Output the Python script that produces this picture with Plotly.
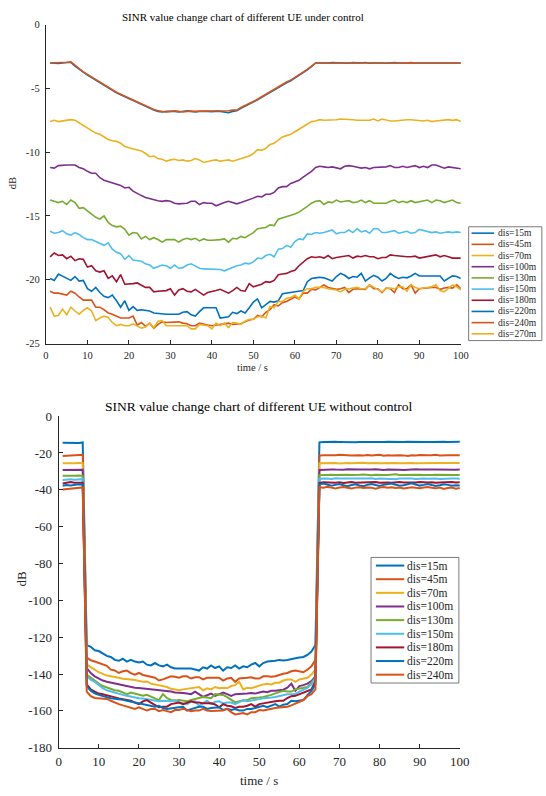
import plotly.graph_objects as go

W, H = 546, 796

# ---------------- data: top chart (under control) ----------------
names_top = ["dis=15m", "dis=45m", "dis=70m", "dis=100m", "dis=130m",
             "dis=150m", "dis=180m", "dis=220m", "dis=240m", "dis=270m"]

ctrl_15 = [-3.0, -3.02, -3.05, -3.0, -2.97, -2.95,
           -3.25, -3.5, -3.75, -3.95, -4.15, -4.35, -4.55, -4.8, -5.0, -5.2, -5.35, -5.5, -5.65, -5.8, -6.0,
           -6.15, -6.3, -6.45, -6.55, -6.7, -6.8,
           -6.85, -6.8, -6.78, -6.8, -6.85, -6.8, -6.75, -6.8, -6.85, -6.8, -6.78, -6.8, -6.82, -6.78, -6.8,
           -6.85, -6.9, -6.8, -6.75,
           -6.55, -6.4, -6.25, -6.05, -5.9, -5.7, -5.5, -5.35, -5.15, -4.95, -4.75, -4.55, -4.4, -4.2, -4.0,
           -3.8, -3.55, -3.3, -3.0,
           -3.0, -3.02, -3.0, -2.98, -3.0, -2.97, -3.0, -3.02, -2.98, -3.0, -3.0, -2.97, -3.02, -3.0, -2.98,
           -3.0, -3.03, -3.0, -2.98, -3.0, -3.0, -2.97, -3.0, -3.02, -3.0, -2.98, -3.0, -3.0, -2.97, -3.0,
           -3.02, -3.0, -2.98, -3.0, -3.0]
ctrl_45 = [-3.0, -3.0, -3.0, -2.98, -2.95, -2.92,
           -3.2, -3.45, -3.7, -3.9, -4.1, -4.3, -4.5, -4.75, -4.95, -5.15, -5.3, -5.45, -5.6, -5.75, -5.95,
           -6.1, -6.25, -6.4, -6.5, -6.65, -6.75,
           -6.8, -6.85, -6.8, -6.75, -6.8, -6.85, -6.8, -6.8, -6.8, -6.75, -6.8, -6.8, -6.8, -6.75, -6.8,
           -6.8, -6.75, -6.7, -6.7,
           -6.5, -6.35, -6.2, -6.0, -5.85, -5.65, -5.45, -5.3, -5.1, -4.9, -4.7, -4.5, -4.35, -4.15, -3.95,
           -3.75, -3.5, -3.25, -3.0,
           -3.0, -3.0, -2.98, -3.0, -3.02, -3.0, -2.97, -3.0, -3.0, -3.02, -3.0, -2.98, -3.0, -2.97, -3.0,
           -3.02, -3.0, -3.0, -2.98, -3.0, -3.03, -3.0, -2.98, -3.0, -3.0, -3.02, -3.0, -2.97, -3.0, -3.0,
           -2.98, -3.0, -3.0, -3.02, -3.0]
ctrl_70 = [-7.6, -7.5, -7.6, -7.55, -7.5, -7.45,
           -7.5, -7.7, -7.9, -8.1, -8.35, -8.5, -8.6, -8.8, -9.0, -9.1, -9.15, -9.3, -9.55, -9.65, -9.75,
           -9.85, -9.9, -10.1, -10.35,
           -10.3, -10.5, -10.55, -10.7, -10.6, -10.55, -10.65, -10.6, -10.7, -10.65, -10.5, -10.6, -10.8,
           -10.7, -10.65, -10.6, -10.7, -10.65, -10.6, -10.7, -10.6,
           -10.5, -10.45, -10.3, -10.1, -9.8, -9.85, -9.7, -9.4, -9.3, -9.05, -8.8, -8.7, -8.6, -8.4, -8.2,
           -8.0, -7.8, -7.6, -7.55,
           -7.45, -7.5, -7.5, -7.45, -7.45, -7.4, -7.4, -7.4, -7.45, -7.5, -7.5, -7.55, -7.5, -7.4, -7.55,
           -7.4, -7.5, -7.55, -7.55, -7.5, -7.5, -7.45, -7.45, -7.5, -7.5, -7.55, -7.5, -7.6, -7.55, -7.5,
           -7.45, -7.45, -7.5, -7.45, -7.6]
ctrl_100 = [-11.2, -11.25, -11.05, -11.0, -11.0, -11.0,
            -11.0, -11.2, -11.3, -11.5, -11.65, -11.65, -12.0, -12.2, -12.3, -12.45, -12.55, -12.6, -12.8,
            -12.75, -13.05, -13.25, -13.4, -13.55,
            -13.65, -13.7, -13.8, -13.85, -13.8, -13.85, -14.0, -14.05, -14.05, -14.0, -13.85, -13.85, -14.1,
            -13.95, -14.0, -14.0, -14.2, -14.05, -13.95, -13.85, -13.95, -14.05,
            -13.95, -13.85, -13.75, -13.6, -13.45, -13.5, -13.3, -13.3, -13.15, -12.8, -12.7, -12.7, -12.45,
            -12.3, -12.2, -11.95, -11.75, -11.5, -11.2,
            -11.1, -11.15, -11.2, -11.15, -11.2, -11.3, -11.1, -11.05, -11.1, -11.2, -11.25, -11.2, -11.3,
            -11.2, -11.2, -11.15, -11.15, -11.05, -11.2, -11.2, -11.1, -11.2, -11.15, -11.05, -11.2, -11.1,
            -11.2, -11.0, -11.0, -11.1, -11.25, -11.15, -11.2, -11.2, -11.3]
ctrl_130 = [-13.75, -13.85, -13.95, -13.85, -14.1, -13.75, -13.95, -14.4, -14.35, -14.6,
            -14.85, -15.1, -15.25, -15.0, -15.5, -15.75, -15.85, -15.8, -16.05, -16.5, -16.3, -16.35, -16.8,
            -16.6, -16.85, -16.7, -16.85, -17.05,
            -16.85, -16.85, -16.85, -17.05, -16.85, -16.75, -16.85, -16.75, -16.95, -16.8, -16.9, -16.9,
            -16.9, -16.85, -16.8, -17.05, -16.75,
            -16.8, -16.6, -16.7, -16.5, -16.3, -16.0, -15.95, -15.9, -15.7, -15.75, -15.25, -15.15, -15.1,
            -15.0, -14.85, -14.7, -14.5, -14.25, -14.0, -13.85,
            -13.8, -14.1, -13.9, -13.95, -13.75, -13.9, -13.85, -13.8, -13.95, -13.9, -13.75, -13.95, -13.8,
            -14.0, -14.0, -14.0, -14.0, -13.85, -13.75, -13.95, -13.85, -13.95, -13.8, -13.95, -13.9, -13.8,
            -13.75, -13.95, -13.75, -13.8, -13.95, -13.85, -13.75, -13.95, -14.0]
ctrl_150 = [-16.2, -16.35, -16.3, -16.15, -16.4, -16.5, -16.3, -16.45, -16.7, -16.85,
            -16.85, -17.0, -17.2, -17.3, -17.1, -17.6, -17.85, -17.95, -18.4, -18.1, -18.45, -18.5, -18.55,
            -18.75, -18.85, -19.1, -18.95,
            -18.85, -18.9, -19.1, -18.85, -19.1, -19.05, -18.85, -18.75, -18.95, -19.1, -19.15, -19.15,
            -19.15, -19.15, -19.2, -19.3, -19.15, -19.0, -18.9,
            -18.85, -18.7, -18.75, -18.6, -18.3, -18.35, -18.1, -18.0, -18.2, -17.6, -17.55, -17.3, -17.45,
            -17.0, -16.8, -16.85, -16.4, -16.45,
            -16.3, -16.35, -16.3, -16.2, -16.1, -16.4, -16.3, -16.3, -16.1, -16.3, -16.0, -16.25, -16.15,
            -16.35, -16.0, -16.0, -16.3, -16.3, -16.25, -16.15, -16.35, -16.25, -16.2, -16.35, -16.3, -16.05,
            -16.15, -16.2, -16.3, -16.25, -16.35, -16.3, -16.25, -16.3, -16.25, -16.3]
ctrl_180 = [-18.2, -17.9, -18.1, -18.05, -18.35, -18.15, -18.5, -18.35, -18.4, -19.0,
            -18.9, -19.3, -19.4, -19.3, -19.9, -19.7, -20.15, -19.6, -20.35, -20.35, -20.3, -20.25, -20.45,
            -20.6, -20.6, -20.95, -20.9, -20.9, -20.85, -20.7,
            -21.2, -20.8, -20.7, -20.9, -20.95, -20.75, -21.0, -21.2, -21.0, -20.95, -20.85, -20.75, -20.9,
            -21.05, -20.85, -20.6, -20.85, -20.9, -20.3, -20.55,
            -20.45, -20.35, -20.15, -20.2, -20.05, -19.6, -19.55, -19.5, -19.35, -19.25, -18.9, -18.6,
            -18.35, -18.2,
            -18.25, -18.2, -18.3, -18.1, -18.35, -18.25, -18.2, -18.2, -18.1, -18.3, -18.15, -18.2, -18.1,
            -18.2, -18.2, -18.35, -18.25, -18.25, -18.05, -18.1, -18.15, -18.15, -18.2, -18.2, -18.15, -18.3,
            -18.25, -18.2, -18.15, -18.05, -18.2, -18.1, -18.2, -18.3, -18.3, -18.3]
ctrl_220 = [-19.9, -20.05, -19.55, -19.7, -19.85, -20.05, -19.75, -20.1, -20.05, -20.7,
            -20.9, -20.6, -21.0, -21.3, -21.4, -21.2, -21.65, -22.15, -21.65, -22.4, -22.1, -22.4, -22.35,
            -22.4, -22.45, -22.6, -22.65, -22.7, -22.7, -22.7,
            -22.7, -22.7, -22.55, -22.5, -22.75, -22.85, -22.5, -22.2, -22.2, -22.2, -22.2, -23.0, -22.95,
            -22.9, -22.55, -22.65, -22.45, -22.6, -22.2, -21.75,
            -21.5, -22.2, -21.95, -21.7, -21.75, -21.65, -21.1, -21.05, -20.95, -20.95, -20.9, -20.85,
            -20.15, -19.9, -19.85, -19.8,
            -19.85, -19.95, -20.1, -19.75, -19.5, -19.65, -19.9, -19.75, -19.8, -19.5, -20.1, -19.85, -19.65,
            -19.8, -20.1, -19.9, -19.5, -19.75, -19.9, -19.8, -19.85, -19.7, -19.5, -19.7, -19.7, -19.7,
            -19.7, -19.7, -19.7, -20.1, -19.9, -19.7, -19.75, -19.9]
ctrl_240 = [-20.9, -21.05, -21.05, -21.15, -21.2, -20.9, -21.05, -21.35, -21.6, -21.6,
            -21.6, -22.15, -22.15, -22.35, -22.6, -22.7, -22.85, -23.0, -23.0, -23.0, -22.85, -23.55, -23.35,
            -23.65, -23.4, -23.8, -23.5, -23.3, -23.35, -23.35,
            -23.35, -23.3, -23.4, -23.45, -23.6, -23.6, -23.4, -23.5, -23.55, -23.6, -23.55, -23.5, -23.45,
            -23.4, -23.5, -23.5, -23.45, -23.3, -23.15, -23.1,
            -22.8, -22.9, -22.55, -22.35, -21.95, -22.05, -21.8, -21.7, -21.55, -21.35, -21.5, -21.05,
            -21.05, -20.75, -20.8, -20.6,
            -20.4, -20.6, -20.65, -20.75, -20.7, -20.6, -21.0, -20.75, -20.7, -20.75, -20.75, -20.4, -20.7,
            -20.7, -21.0, -20.65, -20.7, -21.0, -20.4, -20.7, -20.7, -20.4, -21.05, -20.7, -20.65, -20.6,
            -20.6, -20.6, -20.75, -20.65, -20.6, -20.65, -20.4, -20.7]
ctrl_270 = [-22.15, -22.85, -22.8, -22.3, -22.75, -22.15, -22.45, -22.7, -22.4, -22.2,
            -22.45, -23.2, -23.0, -22.85, -22.95, -23.35, -23.6, -23.5, -23.6, -23.6, -23.45, -23.6, -23.8,
            -23.7, -23.4, -23.75, -23.25, -23.2, -23.6, -23.6,
            -23.6, -23.6, -23.6, -23.6, -23.85, -23.85, -23.5, -23.55, -23.6, -23.85, -23.4, -23.6, -23.4,
            -23.75, -23.35, -23.4, -23.5, -23.25, -23.1, -23.1,
            -22.9, -22.85, -23.0, -22.1, -22.2, -21.7, -21.7, -21.45, -21.4, -21.2, -21.5, -20.9, -20.7,
            -20.7, -20.6, -20.6,
            -20.6, -20.7, -20.75, -20.8, -20.95, -20.75, -20.7, -20.65, -20.6, -20.7, -20.7, -20.4, -20.6,
            -20.8, -20.95, -20.7, -20.65, -20.7, -20.55, -20.55, -20.9, -20.4, -20.6, -20.7, -20.65, -20.6,
            -20.55, -20.4, -20.85, -20.95, -20.7, -20.4, -20.55, -20.8]

series_top = [ctrl_15, ctrl_45, ctrl_70, ctrl_100, ctrl_130,
              ctrl_150, ctrl_180, ctrl_220, ctrl_240, ctrl_270]

# ---------------- data: bottom chart (without control) ----------------
names_bot = names_top[:9]

free_15 = [-14.5, -14.6, -14.5, -14.4, -14.6, -14.3,
           -124.3, -125.2, -127.1, -127.5, -128.8, -130.1, -130.7, -132.3, -132.8, -131.7,
           -133.2, -132.3, -133.2, -133.7, -133.2, -134.9, -135.3, -134.0, -135.3, -135.8,
           -134.9, -136.3, -137.0, -137.0, -137.0, -137.0, -137.0, -137.5, -138.1, -136.3,
           -137.0, -135.3, -136.7, -135.8, -138.1, -136.3, -136.7, -135.3, -137.0, -135.8,
           -136.3, -134.9, -134.0, -135.8, -134.0, -133.2, -133.2, -132.8, -132.3, -132.6,
           -132.3, -131.7, -131.4, -131.0, -130.7, -129.6, -127.8, -124.3,
           -14.2, -14.0, -14.1, -14.0, -13.9, -14.0, -14.1, -14.0, -14.1, -14.2,
           -14.0, -13.9, -14.0, -14.0, -14.1, -14.2, -14.0, -13.9, -14.0, -14.1,
           -14.0, -14.0, -13.9, -14.0, -14.1, -14.0, -13.9, -14.0, -14.0, -14.1,
           -14.0, -13.9, -14.0, -14.0, -13.9, -13.9]
free_45 = [-21.6, -21.5, -21.5, -21.4, -21.2, -21.0,
           -131.0, -132.5, -133.2, -134.0, -134.5, -135.5, -137.6, -138.0, -139.4, -138.5,
           -138.1, -139.5, -140.3, -139.4, -140.5, -141.2, -141.5, -142.0, -143.5, -142.9,
           -142.0, -141.2, -141.5, -142.0, -141.2, -141.2, -142.4, -141.7, -141.7, -142.9,
           -142.0, -142.0, -141.7, -142.0, -143.5, -142.4, -142.0, -144.2, -142.4, -142.0,
           -142.0, -141.7, -142.4, -142.4, -141.2, -141.2, -141.5, -141.2, -140.3, -139.8,
           -139.4, -138.5, -138.1, -138.5, -139.0, -137.6, -135.8, -132.3,
           -21.4, -21.2, -21.3, -21.1, -21.2, -21.0, -21.3, -21.2, -21.4, -21.1,
           -21.2, -21.3, -21.1, -21.4, -21.3, -21.0, -21.5, -21.2, -21.4, -21.2,
           -21.2, -21.3, -21.6, -21.2, -21.4, -21.1, -21.3, -21.2, -21.2, -21.0,
           -21.3, -21.1, -21.2, -21.2, -21.1, -21.2]
free_70 = [-25.6, -25.7, -25.5, -25.6, -25.4, -25.5,
           -134.9, -136.5, -137.6, -139.0, -139.9, -140.8, -141.2, -141.8, -142.0, -142.5,
           -142.9, -142.9, -143.2, -143.5, -144.2, -144.0, -145.2, -145.6, -146.0, -146.5,
           -147.0, -148.0, -148.3, -148.8, -148.3, -148.0, -147.7, -147.4, -147.0, -148.8,
           -147.7, -148.3, -147.0, -147.7, -147.4, -147.7, -146.5, -146.0, -144.2, -148.3,
           -147.4, -147.7, -147.0, -146.0, -145.6, -145.2, -145.6, -144.7, -144.7, -143.5,
           -142.9, -142.9, -144.2, -142.9, -142.5, -142.0, -140.3, -137.6,
           -25.6, -25.5, -25.4, -25.6, -25.5, -25.7, -25.5, -25.4, -25.6, -25.5,
           -25.5, -25.3, -25.6, -25.4, -25.5, -25.6, -25.5, -25.7, -25.5, -25.4,
           -25.6, -25.5, -25.3, -25.5, -25.6, -25.5, -25.4, -25.6, -25.5, -25.4,
           -25.5, -25.6, -25.5, -25.4, -25.5, -25.4]
free_100 = [-29.3, -29.2, -29.4, -29.2, -29.0, -29.1,
            -136.7, -139.5, -141.2, -142.5, -143.5, -144.2, -144.7, -145.2, -145.6, -146.0,
            -146.5, -147.0, -147.4, -147.5, -147.7, -148.0, -148.3, -148.5, -148.8, -149.1,
            -149.3, -149.5, -150.0, -150.0, -150.3, -150.6, -150.9, -149.5, -150.9, -152.4,
            -151.5, -150.6, -151.8, -151.0, -150.0, -150.9, -151.8, -150.9, -150.9, -150.6,
            -150.6, -150.3, -150.6, -150.0, -149.5, -149.8, -149.1, -149.0, -148.8, -148.5,
            -147.4, -145.2, -149.1, -146.5, -146.0, -145.2, -143.8, -141.2,
            -29.2, -29.0, -29.1, -28.9, -29.0, -29.2, -29.1, -28.8, -29.0, -29.2,
            -29.0, -28.9, -29.1, -29.0, -28.8, -29.1, -29.2, -29.0, -28.9, -29.0,
            -29.1, -29.2, -29.0, -28.9, -28.8, -29.0, -29.1, -29.2, -29.0, -28.9,
            -29.0, -29.1, -29.0, -28.9, -29.1, -29.0]
free_130 = [-32.3, -32.4, -32.2, -32.3, -32.2, -32.4,
            -140.3, -142.0, -143.5, -145.2, -146.5, -147.4, -148.3, -148.8, -149.1, -150.0,
            -150.9, -150.0, -150.5, -150.9, -151.8, -151.3, -152.2, -153.1, -154.1, -150.9,
            -153.1, -154.0, -154.5, -154.1, -154.5, -154.8, -154.1, -153.5, -153.1, -152.4,
            -152.7, -153.1, -150.9, -150.9, -151.3, -152.5, -154.1, -155.4, -154.8, -154.5,
            -154.1, -153.1, -152.7, -152.7, -152.4, -152.0, -151.3, -150.5, -150.0, -149.1,
            -149.5, -149.5, -148.3, -147.8, -147.4, -147.0, -144.7, -142.0,
            -32.0, -31.9, -31.7, -31.8, -32.0, -31.9, -31.6, -31.8, -31.9, -32.0,
            -31.8, -31.7, -31.9, -32.1, -31.8, -31.7, -31.9, -32.0, -31.8, -31.6,
            -31.9, -31.8, -32.0, -31.9, -31.7, -31.8, -32.0, -32.1, -31.9, -31.8,
            -31.9, -32.0, -31.8, -31.9, -32.0, -32.0]
free_150 = [-34.6, -34.4, -34.2, -34.5, -34.3, -34.2,
            -141.2, -143.0, -144.2, -146.0, -147.7, -148.8, -149.5, -150.3, -150.9, -151.3,
            -151.8, -152.3, -152.7, -153.1, -153.3, -153.6, -154.1, -154.5, -154.8, -154.5,
            -154.5, -154.8, -154.1, -155.4, -155.8, -156.3, -155.0, -154.8, -157.2, -156.0,
            -154.5, -156.3, -155.0, -154.8, -155.9, -155.4, -155.4, -156.3, -155.0, -154.1,
            -154.8, -154.5, -154.1, -153.6, -153.1, -153.1, -152.7, -152.4, -151.8, -151.5,
            -150.9, -150.9, -150.9, -149.5, -148.3, -147.5, -145.6, -142.0,
            -34.0, -33.8, -33.9, -34.1, -33.7, -33.9, -34.0, -33.8, -34.2, -33.9,
            -33.8, -34.0, -33.9, -33.7, -34.1, -33.9, -34.0, -33.8, -33.9, -34.2,
            -33.9, -33.8, -34.0, -33.9, -34.1, -33.8, -33.9, -34.0, -33.8, -33.9,
            -34.1, -33.9, -34.0, -33.8, -33.9, -34.0]
free_180 = [-36.5, -36.0, -35.8, -36.2, -36.3, -36.1,
            -145.6, -148.3, -149.5, -150.6, -150.9, -151.5, -152.4, -152.7, -153.2, -153.6,
            -154.0, -154.5, -155.5, -156.3, -154.8, -154.1, -155.5, -156.6, -158.0, -157.7,
            -157.7, -156.3, -156.0, -155.4, -156.3, -155.4, -154.8, -155.4, -155.4, -155.9,
            -155.9, -155.9, -156.5, -158.0, -156.3, -157.2, -157.5, -158.4, -157.7, -157.7,
            -157.2, -156.3, -157.7, -156.3, -155.9, -155.4, -155.0, -154.8, -154.5, -154.5,
            -153.0, -152.0, -151.8, -151.0, -150.0, -149.0, -148.3, -143.8,
            -36.2, -35.9, -36.0, -35.8, -36.1, -35.9, -36.3, -36.0, -35.8, -36.1,
            -36.0, -35.9, -36.2, -36.0, -35.7, -36.1, -35.9, -36.0, -36.2, -35.9,
            -35.8, -36.0, -36.1, -35.9, -36.0, -35.8, -36.1, -36.0, -35.9, -36.2,
            -36.0, -35.9, -36.1, -35.8, -36.0, -35.9]
free_220 = [-37.8, -37.4, -37.6, -37.3, -37.0, -37.2,
            -146.5, -149.0, -150.5, -151.3, -152.0, -152.7, -153.1, -153.4, -153.6, -154.0,
            -154.5, -155.0, -155.4, -156.0, -156.3, -156.6, -157.5, -157.7, -157.2, -158.4,
            -158.9, -158.5, -158.0, -158.0, -157.7, -159.8, -159.0, -158.4, -157.7, -157.7,
            -158.9, -158.4, -158.0, -158.0, -159.5, -158.9, -159.5, -159.0, -159.8, -159.8,
            -158.9, -158.9, -158.4, -158.0, -157.2, -158.0, -157.0, -156.3, -157.7, -156.6,
            -156.3, -154.5, -154.8, -154.4, -154.1, -151.5, -149.1, -145.6,
            -37.0, -36.6, -37.2, -37.8, -37.3, -36.9, -37.5, -38.0, -37.4, -37.0,
            -37.6, -38.1, -37.2, -36.8, -37.4, -37.9, -37.3, -37.0, -36.6, -37.2,
            -37.8, -37.5, -37.0, -36.5, -37.1, -37.7, -37.3, -36.8, -37.4, -37.9,
            -37.5, -37.0, -37.3, -37.8, -37.5, -37.6]
free_240 = [-39.8, -39.6, -39.3, -38.9, -38.6, -38.7,
            -149.5, -152.0, -153.0, -153.1, -153.1, -153.5, -154.5, -155.5, -156.3, -157.0,
            -157.7, -158.5, -158.9, -158.0, -159.0, -159.8, -159.0, -158.9, -160.1, -159.5,
            -160.1, -160.7, -159.5, -159.5, -158.9, -159.5, -160.1, -159.8, -159.8, -158.9,
            -159.8, -160.1, -160.1, -159.8, -159.8, -158.9, -160.7, -161.9, -161.5, -161.2,
            -161.9, -160.7, -160.7, -159.5, -159.8, -159.2, -158.9, -158.4, -158.2, -158.0,
            -157.7, -157.0, -155.9, -155.0, -154.1, -152.0, -150.9, -148.3,
            -38.6, -38.9, -38.4, -38.8, -39.2, -38.7, -38.5, -38.9, -39.3, -38.8,
            -38.6, -39.0, -38.7, -38.9, -39.4, -38.8, -38.5, -38.9, -38.6, -39.0,
            -38.7, -39.3, -38.8, -38.6, -38.9, -39.1, -38.7, -38.5, -38.9, -39.2,
            -38.8, -39.5, -39.0, -38.7, -39.4, -39.0]

series_bot = [free_15, free_45, free_70, free_100, free_130,
              free_150, free_180, free_220, free_240]

x_ticks = list(range(0, 101, 10))
y_ticks_top = list(range(-25, 1, 5))
y_ticks_bot = list(range(-180, 1, 20))

# ---------------- styling ----------------
COLORS = ["#0072BD", "#D95319", "#EDB120", "#7E2F8E", "#77AC30",
          "#4DBEEE", "#A2142F", "#0072BD", "#D95319", "#EDB120"]
FONT = "Liberation Serif"
AX = "#262626"


def px_x(p):
    return p / W


def px_y(p):
    return 1 - p / H


fig = go.Figure()

for i, (nm, ys) in enumerate(zip(names_top, series_top)):
    fig.add_trace(go.Scatter(x=list(range(1, len(ys) + 1)), y=ys, mode="lines", name=nm,
                             line=dict(color=COLORS[i], width=1.6),
                             xaxis="x", yaxis="y", showlegend=False))
for i, (nm, ys) in enumerate(zip(names_bot, series_bot)):
    fig.add_trace(go.Scatter(x=list(range(1, len(ys) + 1)), y=ys, mode="lines", name=nm,
                             line=dict(color=COLORS[i], width=2),
                             xaxis="x2", yaxis="y2", showlegend=False))


def axis(domain, rng, ticks, anchor, fs, standoff):
    return dict(domain=domain, range=rng, anchor=anchor, tickmode="array",
                tickvals=ticks, ticktext=[str(v) for v in ticks],
                ticks="inside", ticklen=4, tickwidth=1, tickcolor=AX,
                showline=True, linecolor=AX, linewidth=1, mirror=False,
                showgrid=False, zeroline=False, ticklabelstandoff=standoff,
                tickfont=dict(family=FONT, size=fs, color=AX))


layout_axes = dict(
    xaxis=axis([px_x(44), px_x(469)], [0, 100], x_ticks, "y", 10.5, 2),
    yaxis=axis([px_y(343), px_y(18)], [-25, 0], y_ticks_top, "x", 10.5, 3),
    xaxis2=axis([px_x(57), px_x(468)], [0, 100], x_ticks, "y2", 13, 2),
    yaxis2=axis([px_y(755), px_y(417)], [-180, 0], y_ticks_bot, "x2", 13, 3),
)

annotations = []
shapes = []


def txt(x, y, s, size, angle=0, xanchor="center", color="#000000"):
    annotations.append(dict(x=px_x(x), y=px_y(y), xref="paper", yref="paper", text=s,
                            showarrow=False, textangle=angle, xanchor=xanchor, yanchor="middle",
                            font=dict(family=FONT, size=size, color=color)))


# titles and axis labels
txt(246, 10, "SINR value change chart of different UE under control", 11)
txt(256, 367, "time / s", 10.5, color=AX)
txt(10, 180, "dB", 10.5, angle=-90, color=AX)
txt(262, 407, "SINR value change chart of different UE without control", 13.5)
txt(262, 788, "time / s", 13, color=AX)
txt(18, 583, "dB", 13, angle=-90, color=AX)


def legend(names, box, row0, dy, lx0, lx1, tx, fs, lw):
    x0, y0, x1, y1 = box
    shapes.append(dict(type="rect", xref="paper", yref="paper",
                       x0=px_x(x0), x1=px_x(x1), y0=px_y(y1), y1=px_y(y0),
                       line=dict(color="#7a7a7a", width=1), fillcolor="white", layer="above"))
    for i, nm in enumerate(names):
        yy = row0 + i * dy
        shapes.append(dict(type="line", xref="paper", yref="paper",
                           x0=px_x(lx0), x1=px_x(lx1), y0=px_y(yy), y1=px_y(yy),
                           line=dict(color=COLORS[i], width=lw), layer="above"))
        txt(tx, yy, nm, fs, xanchor="left", color=AX)


legend(names_top, (477, 224, 552, 340), 230.5, 11.4, 480, 503, 505, 9.5, 1.6)
legend(names_bot, (377, 561, 467, 689), 569.3, 13.9, 382, 411, 412, 11.5, 2)

fig.update_layout(width=W, height=H, margin=dict(l=0, r=0, t=0, b=0),
                  paper_bgcolor="white", plot_bgcolor="white",
                  annotations=annotations, shapes=shapes, **layout_axes)

fig.write_html("out.html")
